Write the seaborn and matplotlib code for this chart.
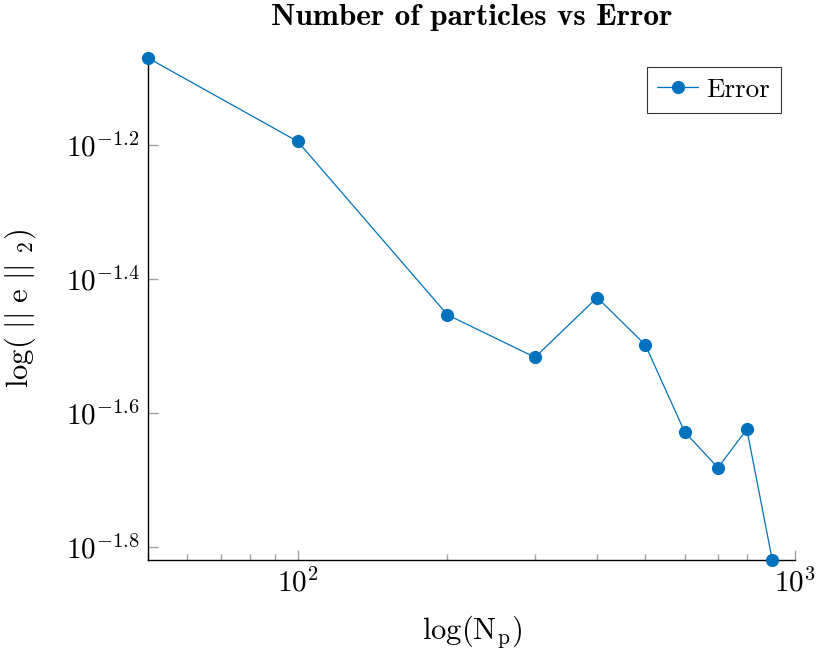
import matplotlib
matplotlib.use("Agg")
import matplotlib.pyplot as plt
import numpy as np
import pandas as pd
import seaborn as sns
from matplotlib.ticker import FixedLocator, LogLocator, NullFormatter, NullLocator

# Particle counts and the corresponding L2 error
n_particles = [50, 100, 200, 300, 400, 500, 600, 700, 800, 900]
errors = [0.08518, 0.06391, 0.03520, 0.03041, 0.03736,
          0.03174, 0.02352, 0.02080, 0.02374, 0.01514]

x_tick_values = [100, 1000]
x_tick_labels = [r"$10^{2}$", r"$10^{3}$"]
y_tick_values = [10 ** -1.2, 10 ** -1.4, 10 ** -1.6, 10 ** -1.8]
y_tick_labels = [r"$10^{-1.2}$", r"$10^{-1.4}$", r"$10^{-1.6}$", r"$10^{-1.8}$"]

df = pd.DataFrame({"N": n_particles, "err": errors})

sns.set_style("white")
plt.rcParams.update({
    "font.family": ["cmr10"],
    "mathtext.fontset": "cm",
    "axes.unicode_minus": False,
    "axes.formatter.use_mathtext": True,
    "text.color": "black",
    "axes.labelcolor": "black",
    "xtick.labelcolor": "black",
    "ytick.labelcolor": "black",
})

blue = "#0072BD"
tick_gray = "#a0a0a0"

fig = plt.figure(figsize=(8.16, 6.53), dpi=100)
ax = fig.add_axes([0.1814, 0.1424, 0.7929, 0.7688])

sns.lineplot(data=df, x="N", y="err", ax=ax, color=blue, linewidth=0.9,
             marker="o", markersize=9.5, markeredgewidth=0,
             markeredgecolor=blue, label="Error", clip_on=False, zorder=5)

ax.set_xscale("log")
ax.set_yscale("log")
ax.set_xlim(50, 1000)
ax.set_ylim(min(errors), max(errors))

ax.xaxis.set_major_locator(FixedLocator(x_tick_values))
ax.set_xticklabels(x_tick_labels)
ax.xaxis.set_minor_locator(LogLocator(base=10, subs=np.arange(2, 10)))
ax.xaxis.set_minor_formatter(NullFormatter())
ax.yaxis.set_major_locator(FixedLocator(y_tick_values))
ax.set_yticklabels(y_tick_labels)
ax.yaxis.set_minor_locator(NullLocator())

ax.tick_params(axis="both", which="both", bottom=True, left=True,
               top=False, right=False)
ax.tick_params(axis="both", which="major", direction="in", length=7,
               width=1.0, color=tick_gray, labelcolor="black",
               labelsize=21, pad=6)
ax.tick_params(axis="x", which="minor", direction="in", length=4.5,
               width=1.0, color=tick_gray)

for side in ("top", "right"):
    ax.spines[side].set_visible(False)
for side in ("left", "bottom"):
    ax.spines[side].set_color("black")
    ax.spines[side].set_linewidth(1.0)
    ax.spines[side].set_zorder(1)

ax.set_xlabel(r"$\mathrm{log}(\mathrm{N_p})$", fontsize=22, labelpad=12,
              color="black")
ax.set_ylabel(r"$\mathrm{log}(\ ||\ \mathrm{e}\ ||\ _{2})$", fontsize=22,
              labelpad=20, color="black")
ax.set_title("Number of particles vs Error", fontfamily="cmb10",
             fontsize=22.5, pad=24, color="black")

leg = ax.legend(loc="upper right", bbox_to_anchor=(0.978, 0.982),
                fontsize=19.5, frameon=True, fancybox=False,
                handlelength=1.5, borderpad=0.4, handletextpad=0.3,
                borderaxespad=0.0)
leg.get_frame().set_edgecolor("black")
leg.get_frame().set_linewidth(0.8)
for txt in leg.get_texts():
    txt.set_color("black")

fig.savefig("out.png", dpi=100)
